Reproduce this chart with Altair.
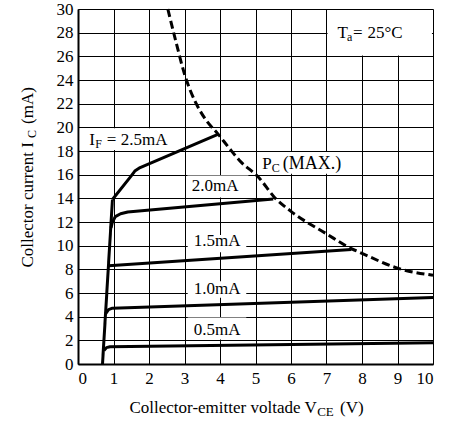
import altair as alt
import pandas as pd

# Output characteristics: collector current I_C vs collector-emitter voltage V_CE
# for several forward currents I_F, plus the P_C(MAX.) dissipation limit.

# saturation edge shared by all curves
rise_v = [0.69, 0.97]
rise_i = [0.0, 13.9]

if05_v = [0.73, 0.80, 0.90, 10.0]
if05_i = [1.15, 1.38, 1.46, 1.80]

if10_v = [0.78, 0.86, 0.97, 10.0]
if10_i = [4.25, 4.60, 4.72, 5.63]

if15_v = [0.86, 0.97, 7.7]
if15_i = [8.30, 8.32, 9.68]

if20_v = [0.93, 0.97, 1.05, 1.2, 1.4, 5.5]
if20_i = [11.5, 12.0, 12.45, 12.7, 12.85, 13.95]

if25_v = [0.97, 1.5, 1.6, 1.75, 3.94]
if25_i = [13.9, 15.9, 16.3, 16.6, 19.4]

pc_v = [2.53, 2.77, 3.0, 3.33, 3.61, 3.94, 4.27, 4.55, 5.11, 5.53, 6.0, 7.0, 7.7, 8.0, 9.0, 10.0]
pc_i = [30.0, 27.1, 24.5, 22.0, 20.6, 19.45, 18.2, 17.2, 15.7, 14.1, 12.9, 11.0, 9.75, 9.35, 8.1, 7.5]

x_ticks = list(range(0, 11))
y_ticks = list(range(0, 31, 2))

FONT = "Liberation Serif"

series = {
    "rise": (rise_v, rise_i),
    "0.5mA": (if05_v, if05_i),
    "1.0mA": (if10_v, if10_i),
    "1.5mA": (if15_v, if15_i),
    "2.0mA": (if20_v, if20_i),
    "2.5mA": (if25_v, if25_i),
}
rows = []
for name, (vs, cs) in series.items():
    for k, (v, c) in enumerate(zip(vs, cs)):
        rows.append({"curve": name, "k": k, "v": v, "i": c})
curves_df = pd.DataFrame(rows)
pc_df = pd.DataFrame({"k": range(len(pc_v)), "v": pc_v, "i": pc_i})

# white backgrounds behind the in-plot labels (hide the grid there)
box_x = [0.05, 3.08, 3.09, 3.09, 3.09, 5.05, 7.03]
box_x2 = [2.88, 4.80, 4.74, 4.74, 4.74, 7.95, 9.97]
box_y = [18.08, 14.08, 9.45, 5.60, 2.08, 16.08, 26.08]
box_y2 = [19.92, 15.92, 10.90, 7.00, 3.92, 17.92, 29.92]
boxes_df = pd.DataFrame({"v": box_x, "v2": box_x2, "i": box_y, "i2": box_y2})

xs = alt.Scale(domain=[0, 10], nice=False, zero=False)
ys = alt.Scale(domain=[0, 30], nice=False, zero=False)

axis_common = dict(
    grid=True, gridColor="black", gridWidth=1, gridOpacity=1,
    ticks=False, domainColor="black", domainWidth=2,
    labelFont=FONT, labelFontSize=17, labelColor="black", title=None,
)
x_axis = alt.Axis(values=x_ticks, labelPadding=6, **axis_common)
y_axis = alt.Axis(values=y_ticks, labelPadding=5, **axis_common)


def X(field="v"):
    return alt.X(f"{field}:Q", scale=xs, axis=x_axis)


def Y(field="i"):
    return alt.Y(f"{field}:Q", scale=ys, axis=y_axis)


curves = alt.Chart(curves_df).mark_line(
    color="black", strokeWidth=3, strokeJoin="round", strokeCap="butt"
).encode(x=X(), y=Y(), detail="curve:N", order="k:Q")

boxes = alt.Chart(boxes_df).mark_rect(color="white").encode(
    x=X(), x2="v2:Q", y=Y(), y2="i2:Q"
)

pc_line = alt.Chart(pc_df).mark_line(
    color="black", strokeWidth=3, strokeDash=[8, 4], interpolate="monotone"
).encode(x=X(), y=Y(), order="k:Q")


def note(text, v, i, size=17, align="left", dx=0, dy=0):
    """Text anchored at a data position (baseline alignment)."""
    return alt.Chart(pd.DataFrame({"v": [v], "i": [i], "t": [text]})).mark_text(
        font=FONT, fontSize=size, align=align, baseline="alphabetic",
        dx=dx, dy=dy, color="black",
    ).encode(x=X(), y=Y(), text="t:N")


def title_piece(text, px, py, size=17, align="left", angle=0):
    """Axis-title fragment placed in pixels relative to the plot origin."""
    return alt.Chart(pd.DataFrame({"t": [text]})).mark_text(
        font=FONT, fontSize=size, align=align, baseline="alphabetic",
        angle=angle, color="black",
    ).encode(x=alt.value(px), y=alt.value(py), text="t:N")


SUB = 12
labels = [
    note("I", 0.32, 18.48),
    note("F", 0.32, 18.48, size=SUB, dx=6, dy=3),
    note("= 2.5mA", 0.32, 18.48, dx=17.5),
    note("2.0mA", 3.86, 14.6, align="center"),
    note("1.5mA", 3.92, 9.96, align="center"),
    note("1.0mA", 3.92, 5.9, align="center"),
    note("0.5mA", 3.92, 2.45, align="center"),
    note("P", 5.19, 16.46),
    note("C", 5.19, 16.46, size=SUB, dx=9.5, dy=3),
    note("(MAX.)", 5.19, 16.46, size=18, dx=20.5),
    note("T", 7.31, 27.51),
    note("a", 7.31, 27.51, size=SUB, dx=9.5, dy=3),
    note("=", 7.31, 27.51, dx=15.5),
    note("25°C", 7.31, 27.51, dx=30),
]

x_title = [
    title_piece("Collector-emitter voltade V", 238.7, 403.7, align="right"),
    title_piece("CE", 239.2, 407.0, size=13),
    title_piece("(V)", 262.0, 403.7),
]
y_title = [
    title_piece("Collector current I", -45, 133, align="right", angle=270),
    title_piece("C", -42, 129, size=SUB, angle=270),
    title_piece("(mA)", -45, 115, align="left", angle=270),
]

chart = alt.layer(
    boxes, curves, pc_line, *labels, *x_title, *y_title
).properties(
    width=355,
    height=355,
    padding={"left": 78, "top": 9, "right": 20, "bottom": 65},
    autosize=alt.AutoSizeParams(type="none"),
).configure_view(
    stroke="black", strokeWidth=1.5
).configure(
    font=FONT
)

chart.save("out.html", embed_options={"renderer": "svg", "actions": False})
